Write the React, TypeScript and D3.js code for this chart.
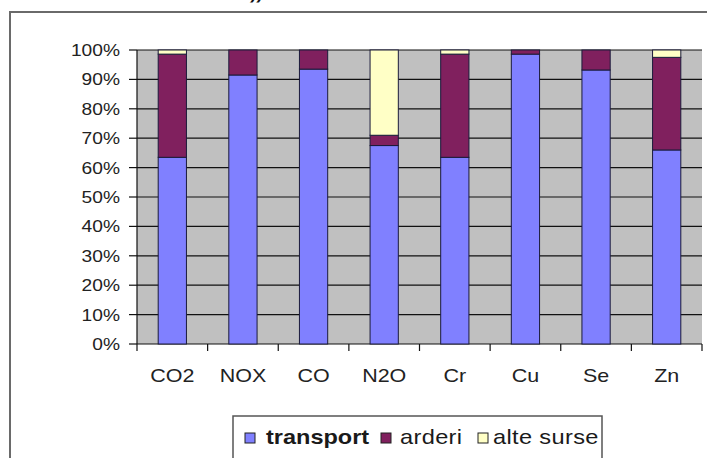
import React from "react";
import * as d3 from "d3";

const categories = ["CO2", "NOX", "CO", "N2O", "Cr", "Cu", "Se", "Zn"];
const transport = [63.5, 91.5, 93.5, 67.5, 63.5, 98.6, 93.2, 66];
const arderi = [35.1, 8.5, 6.5, 3.5, 35.1, 1.4, 6.8, 31.5];
const alteSurse = [1.4, 0, 0, 29, 1.4, 0, 0, 2.5];
const yTicks = [0, 10, 20, 30, 40, 50, 60, 70, 80, 90, 100];

const seriesNames = ["transport", "arderi", "alte surse"];
const colors = ["#8080ff", "#80205e", "#ffffc6"];

const width = 707;
const height = 458;
const margin = { top: 50, right: 5, bottom: 114, left: 137 };
const sx = 1.13; // text in the picture is a bit wide

const App = () => {
  const rows = categories.map((c, i) => ({
    cat: c,
    transport: transport[i],
    arderi: arderi[i],
    "alte surse": alteSurse[i],
  }));
  const stacked = d3.stack<any>().keys(seriesNames)(rows);

  const x = d3
    .scaleBand()
    .domain(categories)
    .range([margin.left, width - margin.right])
    .paddingInner(0.6)
    .paddingOuter(0.3);
  const step = x.step();
  const y = d3
    .scaleLinear()
    .domain([0, 100])
    .range([height - margin.bottom, margin.top]);

  const x0 = margin.left;
  const x1 = width - margin.right;
  const yb = y(0);

  const legendItems = [
    { name: "transport", x: 245, tx: 266, bold: true },
    { name: "arderi", x: 381, tx: 400, bold: false },
    { name: "alte surse", x: 478, tx: 493, bold: false },
  ];

  return (
    <svg
      width={width}
      height={height}
      style={{ position: "absolute", left: 0, top: 0, background: "#fff" }}
      fontFamily="Arial, 'Liberation Sans', sans-serif"
    >
      {/* cropped title fragment */}
      <text x={250} y={-2} fontSize={30} fontWeight="bold" fontStyle="italic" fill="#111">
        „
      </text>
      <rect x={10} y={12} width={720} height={470} fill="none" stroke="#6a6a6a" strokeWidth={2} />

      <rect x={x0} y={y(100)} width={x1 - x0} height={yb - y(100)} fill="#c0c0c0" />
      {yTicks.map((t) => (
        <g key={t}>
          {t > 0 && <line x1={x0} x2={x1} y1={y(t)} y2={y(t)} stroke="#111" strokeWidth={1.2} />}
          <line x1={x0 - 8} x2={x0} y1={y(t)} y2={y(t)} stroke="#111" strokeWidth={1.2} />
          <text
            transform={`translate(${x0 - 17},${y(t) + 6}) scale(${sx},1)`}
            textAnchor="end"
            fontSize={17}
            fill="#222"
          >
            {t}%
          </text>
        </g>
      ))}
      <line x1={x0} x2={x0} y1={y(100)} y2={yb} stroke="#111" strokeWidth={1.2} />
      <line x1={x0} x2={x1} y1={yb} y2={yb} stroke="#111" strokeWidth={1.2} />
      {categories.map((c, i) => (
        <line
          key={c}
          x1={x0 + step * (i + 1)}
          x2={x0 + step * (i + 1)}
          y1={yb}
          y2={yb + 7}
          stroke="#111"
          strokeWidth={1.2}
        />
      ))}
      <line x1={x0} x2={x0} y1={yb} y2={yb + 7} stroke="#111" strokeWidth={1.2} />

      {stacked.map((s, si) => (
        <g key={s.key} fill={colors[si]}>
          {s.map((d) =>
            d[1] - d[0] > 0 ? (
              <rect
                key={d.data.cat}
                x={x(d.data.cat)}
                width={x.bandwidth()}
                y={y(d[1])}
                height={y(d[0]) - y(d[1])}
                stroke="#1a1a3a"
                strokeWidth={1}
              />
            ) : null
          )}
        </g>
      ))}

      {categories.map((c) => (
        <text
          key={c}
          transform={`translate(${(x(c) as number) + x.bandwidth() / 2},${yb + 38}) scale(${sx},1)`}
          textAnchor="middle"
          fontSize={19}
          fill="#222"
        >
          {c}
        </text>
      ))}

      <rect x={233} y={416} width={369} height={60} fill="#fff" stroke="#555" strokeWidth={1.5} />
      {legendItems.map((l, i) => (
        <g key={l.name}>
          <rect x={l.x} y={433} width={10} height={10} fill={colors[i]} stroke="#222" strokeWidth={1} />
          <text
            transform={`translate(${l.tx},${444}) scale(${l.bold ? 1.12 : 1.18},1)`}
            fontSize={l.bold ? 21 : 20}
            fontWeight={l.bold ? "bold" : "normal"}
            fill="#1a1a1a"
            letterSpacing={l.bold ? 0 : 0.3}
          >
            {l.name}
          </text>
        </g>
      ))}
    </svg>
  );
};

export default App;
